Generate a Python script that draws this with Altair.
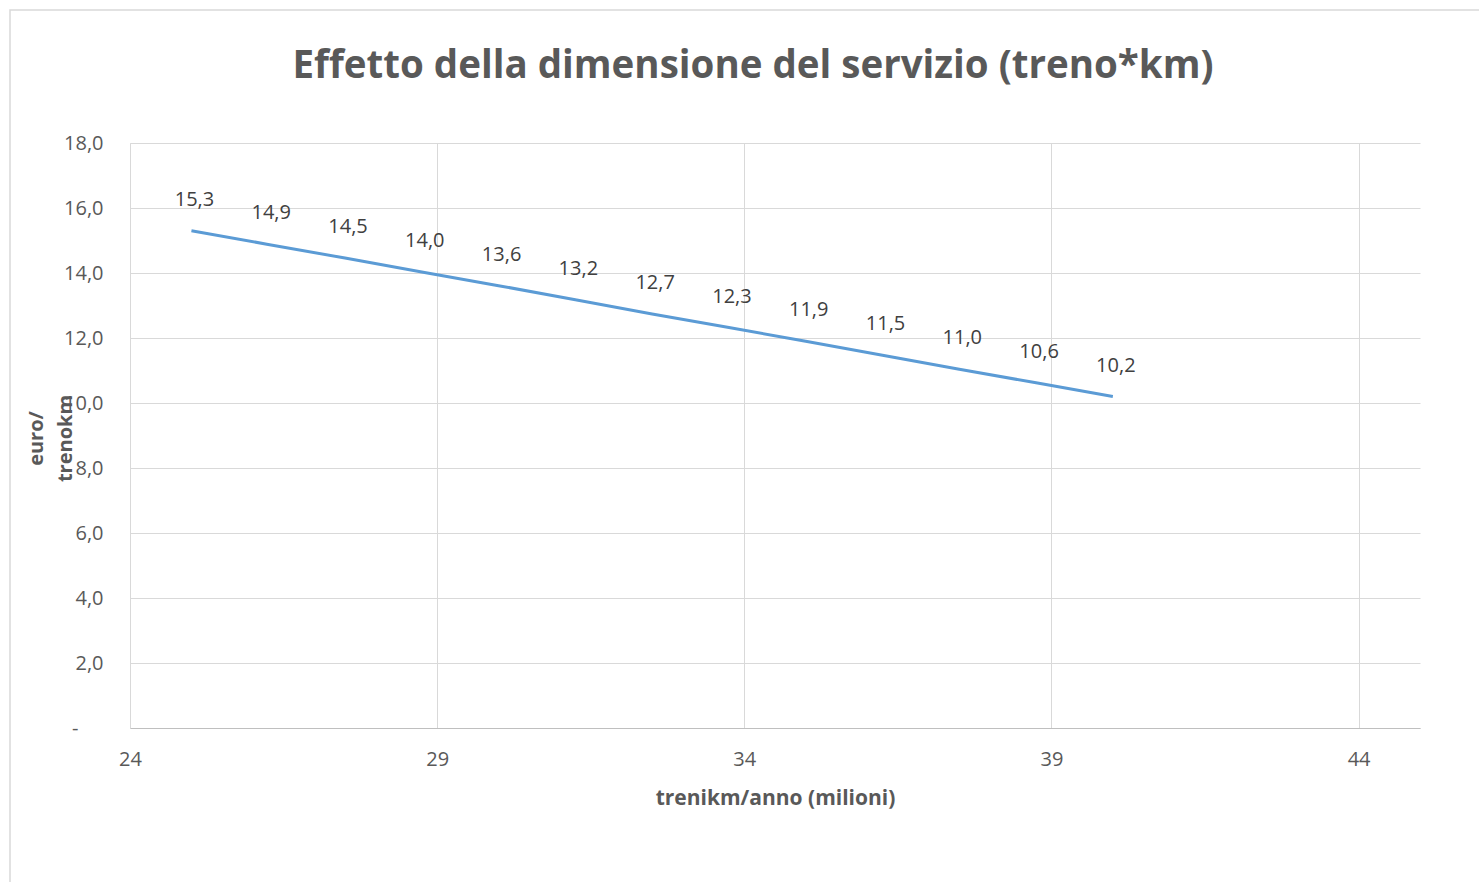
import altair as alt
import pandas as pd

# data
trenikm = [25.0, 26.25, 27.5, 28.75, 30.0, 31.25, 32.5, 33.75, 35.0, 36.25, 37.5, 38.75, 40.0]
euro_trenokm = [15.30, 14.88, 14.46, 14.03, 13.61, 13.18, 12.74, 12.32, 11.90, 11.47, 11.04, 10.62, 10.20]
x_ticks = [24, 29, 34, 39, 44]
y_ticks = [0, 2, 4, 6, 8, 10, 12, 14, 16, 18]
chart_title = ["Effetto della dimensione del servizio (treno*km)"]

df = pd.DataFrame({"x": trenikm, "y": euro_trenokm})
df["label"] = [f"{v:.1f}".replace(".", ",") for v in euro_trenokm]

FONT = "Open Sans"
GRID = "#D9D9D9"

x_enc = alt.X(
    "x:Q",
    scale=alt.Scale(domain=[24, 45], nice=False, zero=False),
    axis=alt.Axis(
        values=x_ticks,
        format="d",
        grid=True,
        gridColor=GRID,
        domainColor="#BFBFBF",
        ticks=False,
        tickSize=0,
        labelFlush=False,
        labelPadding=21,
        labelFontSize=20,
        labelColor="#595959",
        labelFont=FONT,
        title="trenikm/anno (milioni)",
        titleFont=FONT,
        titleFontSize=21,
        titleFontWeight="bold",
        titleColor="#595959",
        titleY=70,
        titleBaseline="middle",
    ),
)
y_enc = alt.Y(
    "y:Q",
    scale=alt.Scale(domain=[0, 18], nice=False),
    axis=alt.Axis(
        values=y_ticks,
        grid=True,
        gridColor=GRID,
        domainColor=GRID,
        ticks=False,
        tickSize=0,
        labelFlush=False,
        labelPadding={"condition": {"test": "datum.value == 0", "value": 52}, "value": 27},
        labelFontSize=20,
        labelColor="#595959",
        labelFont=FONT,
        labelExpr="datum.value == 0 ? '-' : replace(format(datum.value, '.1f'), '.', ',')",
        title=["euro/", "trenokm"],
        titleFont=FONT,
        titleFontSize=20,
        titleFontWeight="bold",
        titleColor="#595959",
        titleAngle=270,
        titleAlign="center",
        titleBaseline="alphabetic",
        titleLineHeight=29,
        titleX=-88,
        titleY=295,
    ),
)

frame = alt.Chart(pd.DataFrame({"a": [0]})).mark_rect(
    fillOpacity=0, stroke=GRID, strokeWidth=1.5
).encode(
    x=alt.value(-120), x2=alt.value(1365), y=alt.value(-133), y2=alt.value(760)
)

title = alt.Chart(pd.DataFrame({"t": chart_title})).mark_text(
    font=FONT, fontSize=38.5, fontWeight="bold", color="#595959",
    align="center", baseline="alphabetic"
).encode(x=alt.value(623), y=alt.value(-65), text="t:N")

line = alt.Chart(df).mark_line(color="#5B9BD5", strokeWidth=3).encode(x=x_enc, y=y_enc)

labels = alt.Chart(df).mark_text(
    dx=3, dy=-31, fontSize=20, font=FONT, color="#404040", baseline="middle"
).encode(x="x:Q", y="y:Q", text="label:N")

chart = alt.layer(frame, title, line, labels).properties(
    width=1290,
    height=585,
    autosize=alt.AutoSizeParams(type="none"),
    padding={"left": 130, "top": 143, "right": 59, "bottom": 154},
    background="white",
).configure_view(stroke=None)

chart.save("out.html", embed_options={"renderer": "svg", "actions": False})
